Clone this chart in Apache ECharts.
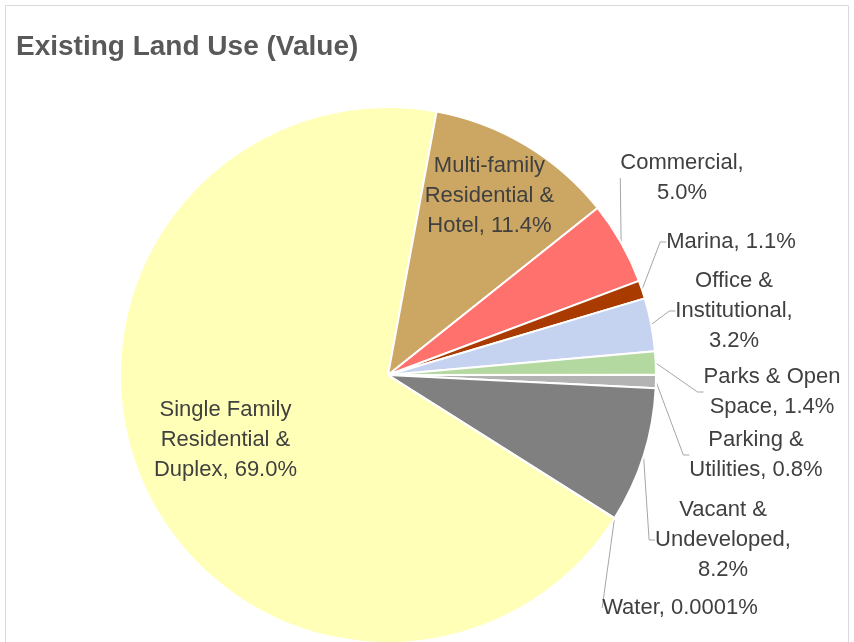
<!DOCTYPE html>
<html>
<head>
<meta charset="utf-8">
<script src="https://cdn.jsdelivr.net/npm/echarts@6/dist/echarts.min.js"></script>
<style>
  html, body { margin: 0; padding: 0; background: #fff; }
  #chart { width: 854px; height: 642px; }
</style>
</head>
<body>
<div id="chart"></div>
<script>
const landUse = [
    'Single Family Residential & Duplex',
    'Multi-family Residential & Hotel',
    'Commercial',
    'Marina',
    'Office & Institutional',
    'Parks & Open Space',
    'Parking & Utilities',
    'Vacant & Undeveloped',
    'Water'
];
// percent shares
const shares = [69.0, 11.4, 5.0, 1.1, 3.2, 1.4, 0.8, 8.2, 0.0001];
// how each label wraps in the picture ({p} = the value)
const labelLines = [
    ['Single Family', 'Residential &', 'Duplex, {p}'],
    ['Multi-family', 'Residential &', 'Hotel, {p}'],
    ['Commercial,', '{p}'],
    ['Marina, {p}'],
    ['Office &', 'Institutional,', '{p}'],
    ['Parks & Open', 'Space, {p}'],
    ['Parking &', 'Utilities, {p}'],
    ['Vacant &', 'Undeveloped,', '{p}'],
    ['Water, {p}']
];
const colors = ['#FFFFB7', '#CCA663', '#FF716C', '#A93A00', '#C5D2F0', '#B4D9A0', '#B3B3B3', '#808080', '#4472C4'];

const fontFam = '"Liberation Sans", Arial, sans-serif';

function fmtPct(v) {
    return (v < 0.01 ? String(v) : v.toFixed(1)) + '%';
}

// where the outside labels sit in the picture (label centres, px)
const labelSpot = {
    2: [682, 178],
    3: [731, 242],
    4: [734, 311],
    5: [772, 392],
    6: [756, 455],
    7: [723, 540],
    8: [680, 608]
};

const chart = echarts.init(document.getElementById('chart'));

const pieData = landUse.map(function (name, i) {
    const item = { name: name, value: shares[i] };
    if (i < 2) {
        item.label = { position: 'inside' };
        item.labelLine = { show: false };
    }
    return item;
});

chart.setOption({
    animation: false,
    color: colors,
    title: {
        text: 'Existing Land Use (Value)',
        left: 11,
        top: 28,
        textStyle: {
            fontFamily: fontFam,
            fontWeight: 'bold',
            fontSize: 28,
            color: '#595959'
        }
    },
    graphic: [
        {
            type: 'rect',
            shape: { x: 5.5, y: 5.5, width: 843, height: 660 },
            style: { fill: null, stroke: '#D9D9D9', lineWidth: 1 },
            silent: true
        }
    ],
    series: [
        {
            name: 'Existing Land Use',
            type: 'pie',
            center: [388, 375],
            radius: 268,
            startAngle: -32.3,
            clockwise: true,
            avoidLabelOverlap: false,
            itemStyle: {
                borderColor: '#fff',
                borderWidth: 2
            },
            label: {
                show: true,
                formatter: function (p) {
                    const pct = fmtPct(p.value);
                    return labelLines[p.dataIndex].map(function (l) {
                        return '{c|' + l.replace('{p}', pct) + '}';
                    }).join('\n');
                },
                rich: {
                    c: {
                        align: 'center',
                        fontFamily: fontFam,
                        fontSize: 22,
                        lineHeight: 30,
                        color: '#404040'
                    }
                }
            },
            labelLine: {
                show: true,
                length: 20,
                length2: 6,
                lineStyle: { color: '#A6A6A6', width: 1 }
            },
            labelLayout: function (params) {
                if (params.dataIndex === 0) return { dx: -37, dy: 10 };
                if (params.dataIndex === 1) return { dx: 31, dy: -62 };
                const s = labelSpot[params.dataIndex];
                if (!s) return {};
                return { x: s[0], y: s[1], align: 'center', verticalAlign: 'middle' };
            },
            data: pieData
        }
    ]
});
</script>
</body>
</html>
